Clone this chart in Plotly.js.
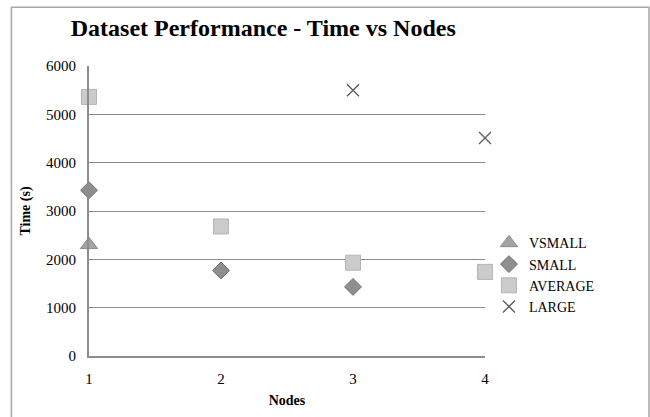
<!DOCTYPE html>
<html>
<head>
<meta charset="utf-8">
<script src="https://cdn.plot.ly/plotly-3.0.1.min.js"></script>
<style>
html,body{margin:0;padding:0;background:#fff;}
#chart{width:650px;height:417px;}
</style>
</head>
<body>
<div id="chart"></div>
<script>
const seriesNames = ["VSMALL", "SMALL", "AVERAGE", "LARGE"];
const vsmallNodes = [1];
const vsmallTime = [2300];
const smallNodes = [1, 2, 3];
const smallTime = [3430, 1770, 1430];
const averageNodes = [1, 2, 3, 4];
const averageTime = [5360, 2680, 1930, 1740];
const largeNodes = [3, 4];
const largeTime = [5500, 4510];
const xTicks = [1, 2, 3, 4];
const yTicks = [0, 1000, 2000, 3000, 4000, 5000, 6000];

const serif = "Liberation Serif, Times New Roman, serif";

const traces = [
  {x: vsmallNodes, y: vsmallTime, name: seriesNames[0], mode: "markers", type: "scatter", cliponaxis: false,
   marker: {symbol: "triangle-up", size: 15, color: "#a3a3a3", line: {color: "#8a8a8a", width: 1}}},
  {x: smallNodes, y: smallTime, name: seriesNames[1], mode: "markers", type: "scatter", cliponaxis: false,
   marker: {symbol: "diamond", size: 13, color: "#8e8e8e", line: {color: "#6e6e6e", width: 1}}},
  {x: averageNodes, y: averageTime, name: seriesNames[2], mode: "markers", type: "scatter", cliponaxis: false,
   marker: {symbol: "square", size: 15, color: "#cbcbcb", line: {color: "#b5b5b5", width: 1}}},
  {x: largeNodes, y: largeTime, name: seriesNames[3], mode: "markers", type: "scatter", cliponaxis: false,
   marker: {symbol: "x-thin-open", size: 12, color: "#5a5a5a", line: {color: "#5a5a5a", width: 1.3}}}
];

const layout = {
  width: 650, height: 417,
  margin: {l: 89, r: 165, t: 66, b: 61},
  paper_bgcolor: "#fff", plot_bgcolor: "#fff",
  font: {family: serif, size: 15, color: "#000"},
  title: {text: "<b>Dataset Performance - Time vs Nodes</b>", font: {family: serif, size: 24, color: "#000"},
          x: 0.405, xref: "container", xanchor: "center", y: 0.935, yref: "container", yanchor: "middle"},
  xaxis: {range: [1, 4], tickvals: xTicks, ticktext: xTicks.map(String), showgrid: false, zeroline: false,
          showline: true, linecolor: "#8c8c8c", linewidth: 2, ticks: "", ticklabelstandoff: 8,
          tickfont: {family: serif, size: 15},
          title: {text: "<b>Nodes</b>", font: {family: serif, size: 14}, standoff: 9}},
  yaxis: {range: [0, 6000], tickvals: yTicks, ticktext: yTicks.map(String), showgrid: true, gridcolor: "#8c8c8c", gridwidth: 1,
          zeroline: false, showline: true, linecolor: "#8c8c8c", linewidth: 2, ticks: "", ticklabelstandoff: 8,
          tickfont: {family: serif, size: 15},
          title: {text: "<b>Time (s)</b>", font: {family: serif, size: 14}, standoff: 12}},
  legend: {x: 1.01, y: 0.28, xanchor: "left", yanchor: "middle", font: {family: serif, size: 14},
           bgcolor: "rgba(0,0,0,0)", itemwidth: 30, tracegroupgap: 0},
  showlegend: true,
  shapes: [
    {type: "rect", xref: "paper", yref: "paper", x0: -0.196, x1: 1.414, y0: -0.4, y1: 1.203,
     line: {color: "#a8a8a8", width: 1.5}, fillcolor: "rgba(0,0,0,0)", layer: "below"}
  ]
};

Plotly.newPlot("chart", traces, layout, {displayModeBar: false, staticPlot: true});
</script>
</body>
</html>
